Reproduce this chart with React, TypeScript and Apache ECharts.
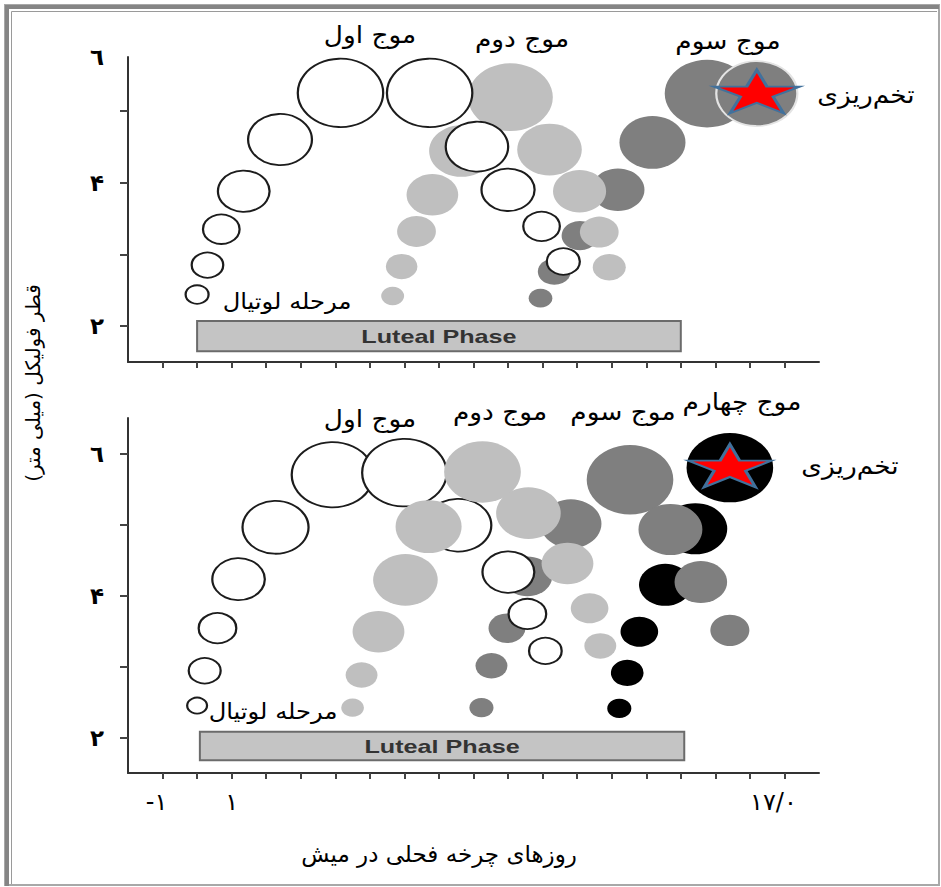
import React, { useEffect, useRef } from "react";
import * as echarts from "echarts";

// ---- axis ticks / labels ----
const xTickDays = [-1, 0, 1, 2, 3, 4, 5, 6, 7, 8, 9, 10, 11, 12, 13, 14, 15, 16, 17];
const xLabelDays = [-1, 1, 17];
const xLabelTexts = ["-۱", "۱", "۱۷/۰"];
const yTicksTop = [2, 3, 4, 5];
const yTicksBottom = [2, 3, 4, 5, 6];
const yLabelValuesTop = [2, 4, 5.75];
const yLabelValuesBottom = [2, 4, 6];
const yLabelTexts = ["۲", "۴", "٦"];

// ---- luteal phase [startDay, endDay, low, high] ----
const lutealTop = [0, 14, 1.65, 2.07];
const lutealBottom = [0.08, 14.1, 1.68, 2.08];

// ---- follicles: [day, diameter (mm), bubble size (mm)] ----
// upper panel (three waves)
const topWave1 = [
  [0.0, 2.44, 0.32], [0.3, 2.85, 0.44], [0.7, 3.35, 0.51], [1.35, 3.88, 0.72],
  [2.4, 4.6, 0.89], [4.15, 5.25, 1.19], [6.73, 5.25, 1.19], [8.1, 4.5, 0.87],
  [9.0, 3.9, 0.74], [9.97, 3.39, 0.51], [10.6, 2.9, 0.46],
];
const topWave2 = [
  [5.66, 2.42, 0.32], [5.92, 2.83, 0.44], [6.35, 3.32, 0.54], [6.81, 3.83, 0.72],
  [7.65, 4.44, 0.9], [9.07, 5.19, 1.18], [10.2, 4.46, 0.9], [11.07, 3.88, 0.74],
  [11.64, 3.31, 0.54], [11.93, 2.82, 0.46],
];
const topWave3 = [
  [9.94, 2.39, 0.33], [10.34, 2.76, 0.46], [11.08, 3.26, 0.51], [12.18, 3.9, 0.74],
  [13.18, 4.56, 0.92], [14.76, 5.24, 1.18], [16.2, 5.24, 1.13],
];
// lower panel (four waves)
const bottomWave1 = [
  [0.0, 2.45, 0.28], [0.22, 2.94, 0.45], [0.59, 3.54, 0.53], [1.2, 4.23, 0.74],
  [2.27, 4.96, 0.93], [3.92, 5.7, 1.15], [6.0, 5.73, 1.19], [7.56, 4.99, 0.93],
  [9.01, 4.33, 0.73], [9.56, 3.74, 0.53], [10.08, 3.22, 0.46],
];
const bottomWave2 = [
  [4.5, 2.42, 0.32], [4.76, 2.88, 0.45], [5.25, 3.49, 0.73], [6.03, 4.22, 0.91],
  [6.7, 4.97, 0.93], [8.26, 5.74, 1.08], [9.59, 5.16, 0.91], [10.72, 4.45, 0.73],
  [11.36, 3.82, 0.53], [11.67, 3.29, 0.45],
];
const bottomWave3 = [
  [8.23, 2.42, 0.34], [8.52, 3.01, 0.45], [8.97, 3.54, 0.52], [9.56, 4.27, 0.7],
  [10.82, 5.01, 0.86], [12.53, 5.63, 1.22], [13.7, 4.93, 0.9], [14.58, 4.19, 0.74],
  [15.42, 3.51, 0.55],
];
const bottomWave4 = [
  [12.22, 2.41, 0.34], [12.45, 2.91, 0.46], [12.8, 3.49, 0.53], [13.55, 4.15, 0.74],
  [14.42, 4.94, 0.9], [15.42, 5.8, 1.22],
];

const FA = '"DejaVu Sans", "Noto Sans", sans-serif';
const STAR =
  "path://M50,0 L61.17,34.63 L97.55,34.55 L68.07,55.87 L79.39,90.45 L50,69 L20.61,90.45 L31.93,55.87 L2.45,34.55 L38.83,34.63 Z";

const grids = [
  { left: 128, top: 57, width: 691, height: 305 },
  { left: 128, top: 418, width: 691, height: 355 },
];
const yRanges = [
  [1.5, 5.75],
  [1.5, 6.5],
];

export default function App() {
  const ref = useRef<HTMLDivElement>(null);

  useEffect(() => {
    if (!ref.current) return;
    const chart = echarts.init(ref.current, null, { renderer: "svg" });

    const unit = grids.map((g, i) => g.height / (yRanges[i][1] - yRanges[i][0]));

    const pick = (vals: number[], texts: string[]) => (v: number) => {
      const i = vals.findIndex((u) => Math.abs(u - v) < 1e-6);
      return i >= 0 ? texts[i] : "";
    };

    const scatter = (data: number[][], g: number, style: any, z: number, rim?: boolean) => ({
      type: "scatter",
      xAxisIndex: g,
      yAxisIndex: g,
      z,
      silent: true,
      clip: false,
      symbol: "circle",
      symbolSize: (v: number[]) => [v[2] * unit[g], v[2] * unit[g] * 0.8],
      itemStyle: { opacity: 1, ...style },
      data: data.map((d, i) =>
        rim && i === data.length - 1
          ? { value: d, itemStyle: { borderColor: "#e4e4e4", borderWidth: 2 } }
          : d
      ),
    });

    const white = { color: "#ffffff", borderColor: "#1c1c1c", borderWidth: 2 };
    const light = { color: "#bfbfbf" };
    const dark = { color: "#7f7f7f" };
    const black = { color: "#000000" };

    const star = (pt: number[], g: number, size: number[]) => ({
      type: "scatter",
      xAxisIndex: g,
      yAxisIndex: g,
      z: 10,
      silent: true,
      clip: false,
      symbol: STAR,
      symbolKeepAspect: false,
      symbolSize: size,
      symbolOffset: [0, -2],
      itemStyle: { opacity: 1, color: "#ff0000", borderColor: "#41719c", borderWidth: 2.5 },
      data: [[pt[0], pt[1]]],
    });

    const luteal = (bar: number[], g: number) => ({
      type: "custom",
      xAxisIndex: g,
      yAxisIndex: g,
      z: 1,
      silent: true,
      clip: false,
      data: [bar],
      encode: { x: [0, 1], y: [2, 3] },
      renderItem: (_p: any, api: any) => {
        const p0 = api.coord([api.value(0), api.value(3)]);
        const p1 = api.coord([api.value(1), api.value(2)]);
        return {
          type: "group",
          children: [
            {
              type: "rect",
              shape: { x: p0[0], y: p0[1], width: p1[0] - p0[0], height: p1[1] - p0[1] },
              style: { fill: "#c4c4c4", stroke: "#6b6b6b", lineWidth: 2 },
            },
            {
              type: "text",
              x: (p0[0] + p1[0]) / 2,
              y: (p0[1] + p1[1]) / 2 + 1,
              scaleX: 1.4,
              style: {
                text: "Luteal Phase",
                fill: "#333333",
                font: 'bold 18px "Liberation Sans", Arial, sans-serif',
                align: "center",
                verticalAlign: "middle",
              },
            },
          ],
        };
      },
    });

    const xAxis = (g: number) => ({
      type: "value",
      gridIndex: g,
      min: -2,
      max: 18,
      interval: 1,
      axisLine: { show: true, onZero: false, lineStyle: { color: "#333", width: 2 } },
      axisTick: {
        show: true,
        customValues: xTickDays,
        length: 6,
        lineStyle: { color: "#444", width: 2 },
      },
      axisLabel: {
        show: g === 1,
        customValues: xLabelDays,
        margin: 17,
        formatter: (v: number) => {
          const t = pick(xLabelDays, xLabelTexts)(v);
          if (!t) return "";
          if (Math.abs(v - 17) < 1e-6) return "{r|" + t + "}";
          if (Math.abs(v + 1) < 1e-6) return "{m|" + t + "}";
          return "{n|" + t + "}";
        },
        rich: {
          n: { fontSize: 24, fontFamily: FA, color: "#000" },
          m: { fontSize: 24, fontFamily: FA, color: "#000", padding: [0, 12, 0, 0] },
          r: { fontSize: 24, fontFamily: FA, color: "#000", padding: [0, 22, 0, 0] },
        },
      },
      splitLine: { show: false },
    });

    const yAxis = (g: number) => ({
      type: "value",
      gridIndex: g,
      min: yRanges[g][0],
      max: yRanges[g][1],
      interval: 0.25,
      axisLine: { show: true, onZero: false, lineStyle: { color: "#333", width: 2 } },
      axisTick: {
        show: true,
        customValues: g === 0 ? yTicksTop : yTicksBottom,
        length: 8,
        lineStyle: { color: "#444", width: 2 },
      },
      axisLabel: {
        show: true,
        customValues: g === 0 ? yLabelValuesTop : yLabelValuesBottom,
        margin: 24,
        fontSize: 23,
        fontWeight: "bold",
        fontFamily: FA,
        color: "#000",
        formatter: pick(g === 0 ? yLabelValuesTop : yLabelValuesBottom, yLabelTexts),
      },
      splitLine: { show: false },
    });

    const txt = (text: string, x: number, y: number, size: number, extra: any = {}) => ({
      type: "text",
      x,
      y,
      z: 100,
      silent: true,
      ...extra,
      style: {
        text,
        fill: "#000",
        font: `${size}px ${FA}`,
        align: "center",
        verticalAlign: "middle",
      },
    });
    const wide = { scaleX: 1.1 };

    const option: any = {
      animation: false,
      backgroundColor: "#ffffff",
      grid: grids.map((g) => ({ ...g, containLabel: false })),
      xAxis: [xAxis(0), xAxis(1)],
      yAxis: [yAxis(0), yAxis(1)],
      series: [
        luteal(lutealTop, 0),
        scatter(topWave3, 0, dark, 2, true),
        scatter(topWave2, 0, light, 3),
        scatter(topWave1, 0, white, 4),
        star(topWave3[topWave3.length - 1], 0, [86, 43]),
        luteal(lutealBottom, 1),
        scatter(bottomWave4, 1, black, 2),
        scatter(bottomWave3, 1, dark, 3),
        scatter(bottomWave1, 1, white, 4),
        scatter(bottomWave2, 1, light, 5),
        star(bottomWave4[bottomWave4.length - 1], 1, [83, 43]),
      ],
      graphic: {
        elements: [
          // frame
          {
            type: "rect",
            shape: { x: 5, y: 5, width: 934, height: 880 },
            style: { fill: "none", stroke: "#a8a8a8", lineWidth: 2 },
            silent: true,
          },
          {
            type: "polyline",
            shape: { points: [[7, 886], [7, 7], [939, 7]] },
            style: { fill: "none", stroke: "#858585", lineWidth: 4 },
            silent: true,
          },
          {
            type: "polyline",
            shape: { points: [[11.5, 884], [11.5, 11.5], [937, 11.5]] },
            style: { fill: "none", stroke: "#9a9a9a", lineWidth: 1 },
            silent: true,
          },
          // upper panel annotations
          txt("موج اول", 370, 35, 24, wide),
          txt("موج دوم", 522, 39, 24, wide),
          txt("موج سوم", 728, 41, 24, wide),
          txt("تخم\u200Cریزی", 866, 95, 24, wide),
          txt("مرحله لوتیال", 287, 301, 22, wide),
          // lower panel annotations
          txt("موج اول", 370, 419, 24, wide),
          txt("موج دوم", 500, 412, 24, wide),
          txt("موج سوم", 623, 412, 24, wide),
          txt("موج چهارم", 742, 402, 24, wide),
          txt("تخم\u200Cریزی", 850, 466, 24, wide),
          txt("مرحله لوتیال", 273, 711, 22, wide),
          // axis titles
          txt("\u200Fقطر فولیکل (میلی متر)\u200F", 33, 383, 20, { rotation: Math.PI / 2 }),
          txt("روزهای چرخه فحلی در میش", 439, 854, 23),
        ],
      },
    };

    chart.setOption(option);
    return () => chart.dispose();
  }, []);

  return (
    <div
      ref={ref}
      style={{ position: "absolute", left: 0, top: 0, width: 941, height: 887, background: "#fff" }}
    />
  );
}
